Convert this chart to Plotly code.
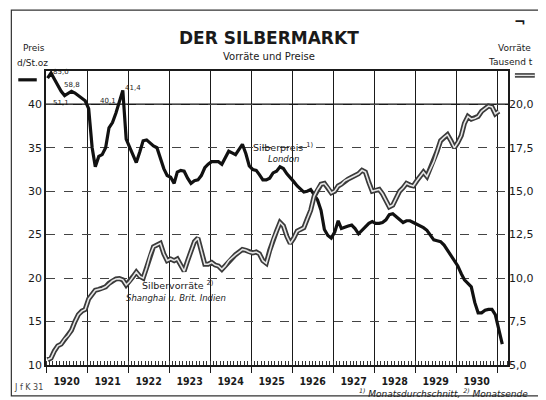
import pandas as pd
import plotly.graph_objects as go

# Silberpreis London, d/St.oz, monthly average, Jan 1920 - Feb 1931
# (values above 40 are read on the compressed top band of the chart)
preis = [43.0, 43.6, 42.9, 42.2, 41.5, 41.0, 41.2, 41.5, 41.3, 41.0, 40.7, 40.4,
         39.5, 35.0, 32.8, 34.0, 34.2, 35.0, 37.3, 37.9, 39.0, 40.4, 41.6, 36.0,
         35.1, 34.2, 33.3, 34.5, 35.8, 35.9, 35.5, 35.2, 35.0, 33.9, 32.6, 31.8,
         31.6, 30.9, 32.2, 32.4, 32.3, 31.5, 30.9, 31.2, 31.3, 31.8, 32.7, 33.1,
         33.4, 33.4, 33.4, 33.1, 33.8, 34.6, 34.4, 34.2, 34.8, 35.4, 34.3, 32.9,
         32.5, 32.4, 31.9, 31.3, 31.3, 31.5, 32.1, 32.3, 32.8, 32.6, 32.0, 31.6,
         31.1, 30.6, 30.3, 29.9, 30.0, 30.2, 29.6, 29.0, 27.8, 25.6, 24.9, 24.6,
         25.3, 26.6, 25.7, 25.9, 26.0, 26.1, 25.7, 25.1, 25.5, 25.9, 26.3, 26.5,
         26.3, 26.3, 26.4, 26.7, 27.3, 27.4, 27.1, 26.8, 26.4, 26.6, 26.6, 26.4,
         26.2, 25.9, 25.8, 25.5, 24.9, 24.4, 24.3, 24.2, 23.8, 23.2, 22.6, 22.1,
         21.4, 20.5, 19.8, 19.4, 19.0, 17.2, 16.0, 16.0, 16.3, 16.4, 16.4, 15.8,
         14.0, 12.4]

# Silbervorraete Shanghai u. Brit. Indien, Tausend t, month end, Jan 1920 - Jan 1931
vorraete = [5.3, 5.4, 5.8, 6.1, 6.2, 6.5, 6.7, 7.0, 7.5, 7.9, 8.1, 8.2,
            8.8, 9.1, 9.3, 9.35, 9.4, 9.5, 9.7, 9.85, 9.95, 9.97, 9.9, 9.6,
            9.8, 10.1, 10.35, 10.1, 10.0, 10.6, 11.3, 11.8, 11.9, 12.0, 11.4, 11.0,
            11.1, 11.0, 11.1, 10.7, 10.4, 11.0, 11.6, 12.1, 12.3, 11.6, 10.8, 10.8,
            10.9, 10.75, 10.7, 10.5, 10.7, 11.0, 11.2, 11.35, 11.5, 11.65, 11.6, 11.5,
            11.45, 11.5, 11.4, 11.0, 10.85, 11.6, 12.2, 12.7, 13.2, 13.0, 12.4, 12.0,
            12.3, 12.7, 12.8, 12.9, 13.4, 13.9, 14.7, 15.1, 15.4, 15.45, 15.2, 14.9,
            15.0, 15.3, 15.4, 15.6, 15.7, 15.8, 15.9, 16.0, 16.2, 16.1, 15.5, 15.0,
            15.05, 15.1, 14.85, 14.5, 14.1, 14.2, 14.6, 15.0, 15.2, 15.45, 15.35, 15.3,
            15.6, 15.9, 16.1, 15.85, 16.3, 16.7, 17.3, 17.9, 18.1, 18.25, 17.9, 17.5,
            17.8, 18.2, 18.9, 19.3, 19.15, 19.2, 19.3, 19.6, 19.75, 19.9, 19.85, 19.45,
            19.6]

preis_ticks = [10, 15, 20, 25, 30, 35, 40]
vorrat_ticks = [5, 7.5, 10, 12.5, 15, 17.5, 20]

# labels for the peaks drawn in the compressed band
spitzen_text = ['85,0', '51,1', '58,8', '40,1', '41,4']
spitzen_monat = [1, 5, 7, 21, 22]
spitzen_shift = [(10, 1), (-4, -7), (1, 6), (-11, 0), (10, 2)]

monate_p = pd.date_range('1920-01-01', periods=len(preis), freq='MS') + pd.Timedelta(days=14)
monate_v = pd.date_range('1920-01-01', periods=len(vorraete), freq='MS') + pd.Timedelta(days=14)

FONT = 'DejaVu Sans'
INK = '#1a1a1a'

fig = go.Figure()

# double line for the stocks: dark outline, light core
fig.add_trace(go.Scatter(x=monate_v, y=vorraete, yaxis='y2', mode='lines',
                         line=dict(color='#3a3a3a', width=5), hoverinfo='skip'))
fig.add_trace(go.Scatter(x=monate_v, y=vorraete, yaxis='y2', mode='lines',
                         line=dict(color='#e6e6e6', width=1.6),
                         hovertemplate='%{x|%b %Y}<br>%{y} Tsd. t<extra></extra>'))
fig.add_trace(go.Scatter(x=monate_p, y=preis, mode='lines',
                         line=dict(color='#111111', width=3.2),
                         hovertemplate='%{x|%b %Y}<br>%{y} d<extra></extra>'))

fig.add_hline(y=40, line=dict(color=INK, width=1.5), layer='below')

for txt, m, (dx, dy) in zip(spitzen_text, spitzen_monat, spitzen_shift):
    fig.add_annotation(x=monate_p[m], y=preis[m], text=txt, showarrow=False,
                       xanchor='center', yanchor='middle', xshift=dx, yshift=dy,
                       font=dict(family=FONT, size=7, color=INK))

fig.add_annotation(x='1925-10-20', y=35.1, text='Silberpreis <sup>1)</sup>', showarrow=False,
                   font=dict(family=FONT, size=9.5, color=INK))
fig.add_annotation(x='1925-10-20', y=33.7, text='<i>London</i>', showarrow=False,
                   font=dict(family=FONT, size=8.5, color=INK))
fig.add_annotation(x='1923-03-20', y=19.2, text='Silbervorräte <sup>2)</sup>', showarrow=False,
                   font=dict(family=FONT, size=9.5, color=INK))
fig.add_annotation(x='1923-03-01', y=17.7, text='<i>Shanghai u. Brit. Indien</i>', showarrow=False,
                   font=dict(family=FONT, size=8.5, color=INK))


def paper_text(x, y, text, size, color=INK):
    fig.add_annotation(xref='paper', yref='paper', x=x, y=y, text=text, showarrow=False,
                       xanchor='center', yanchor='middle',
                       font=dict(family=FONT, size=size, color=color))


# titles and axis captions
paper_text(0.482, 1.112, '<b>DER SILBERMARKT</b>', 17)
paper_text(0.482, 1.048, 'Vorräte und Preise', 10)
paper_text(-0.026, 1.078, 'Preis', 9)
paper_text(-0.03, 1.027, 'd/St.oz', 9)
paper_text(1.015, 1.078, 'Vorräte', 9)
paper_text(1.006, 1.031, 'Tausend t', 9)
paper_text(1.026, 1.167, '<b>¬</b>', 14)
paper_text(0.86, -0.095, '<i><sup>1)</sup> Monatsdurchschnitt, <sup>2)</sup> Monatsende</i>', 9)
paper_text(-0.038, -0.078, 'J f K 31', 8, '#444')

# legend swatches beside the captions
fig.add_shape(type='line', xref='paper', yref='paper', x0=-0.06, x1=-0.02, y0=0.97, y1=0.97,
              line=dict(color='#111111', width=3.2))
fig.add_shape(type='line', xref='paper', yref='paper', x0=1.015, x1=1.058, y0=0.985, y1=0.985,
              line=dict(color='#3a3a3a', width=4.5))
fig.add_shape(type='line', xref='paper', yref='paper', x0=1.015, x1=1.058, y0=0.985, y1=0.985,
              line=dict(color='#e6e6e6', width=1.4))
# page frame
fig.add_shape(type='rect', xref='paper', yref='paper', x0=-0.075, x1=1.07, y0=-0.105, y1=1.207,
              line=dict(color='#333', width=1.2), layer='below')

fig.update_xaxes(
    type='date', range=['1920-01-01', '1931-04-07'],
    tick0='1920-01-01', dtick='M12', tickformat='%Y', ticklabelmode='period',
    showgrid=True, gridcolor=INK, gridwidth=1.3,
    showline=True, linecolor=INK, linewidth=1.5, mirror=True,
    ticks='outside', ticklen=6, tickcolor=INK,
    minor=dict(dtick='M1', ticks='inside', ticklen=4, tickcolor='#333', showgrid=False),
    tickfont=dict(family='DejaVu Sans Condensed', size=10.5, color=INK, weight='bold'),
    zeroline=False
)
fig.update_yaxes(
    range=[10, 43.83], tickvals=preis_ticks, tickformat='d',
    showgrid=True, griddash='dash', gridcolor='#444', gridwidth=1,
    showline=True, linecolor=INK, linewidth=1.5, mirror=True,
    ticks='', tickfont=dict(family=FONT, size=11, color=INK), zeroline=False
)

# the page body keeps an 8px margin, so the figure is 8px smaller each way
fig.update_layout(
    width=538, height=392,
    margin={'l': 38, 'r': 31, 't': 63, 'b': 35},
    paper_bgcolor='white', plot_bgcolor='white',
    showlegend=False, separators=',.',
    yaxis2=dict(overlaying='y', side='right', range=[5, 21.915], tickvals=vorrat_ticks,
                tickformat='.1f', showgrid=False, zeroline=False, ticks='',
                tickfont=dict(family=FONT, size=11, color=INK)),
    font=dict(family=FONT, color=INK)
)

fig.write_html('out.html')
